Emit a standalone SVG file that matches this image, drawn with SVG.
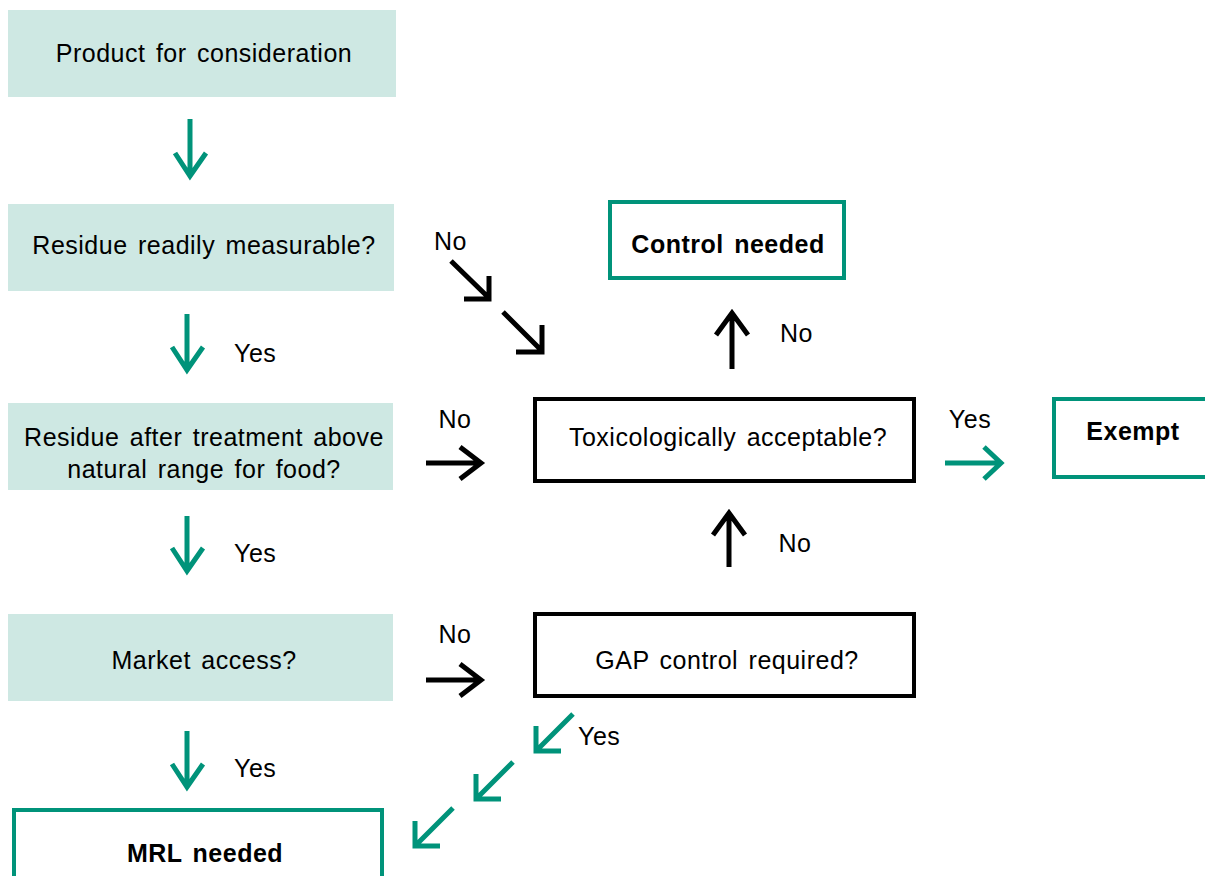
<svg xmlns="http://www.w3.org/2000/svg" width="1205" height="876" viewBox="0 0 1205 876">
<style>
text{font-family:"Liberation Sans",Arial,sans-serif;font-size:25px;fill:#000;letter-spacing:0.5px;word-spacing:3px}
.c{text-anchor:middle}
.b{font-weight:bold}
.fill{fill:#cee8e3;stroke:none}
.gbox{fill:#fff;stroke:#00937a;stroke-width:4}
.kbox{fill:#fff;stroke:#000;stroke-width:4}
.ga{fill:none;stroke:#00937a;stroke-width:5;stroke-linejoin:miter;stroke-linecap:butt}
.ka{fill:none;stroke:#000;stroke-width:5;stroke-linejoin:miter;stroke-linecap:butt}
</style>
<rect width="1205" height="876" fill="#fff"/>
<g id="n-product"><rect class="fill" x="8" y="10" width="388" height="87"/><text class="c" x="204" y="62">Product for consideration</text></g>
<g id="n-residue"><rect class="fill" x="8" y="204" width="386" height="87"/><text class="c" x="204" y="254">Residue readily measurable?</text></g>
<g id="n-above"><rect class="fill" x="8" y="403" width="385" height="87"/><text class="c" x="204" y="446">Residue after treatment above</text><text class="c" x="204" y="478">natural range for food?</text></g>
<g id="n-market"><rect class="fill" x="8" y="614" width="385" height="87"/><text class="c" x="204" y="669">Market access?</text></g>
<g id="n-mrl"><rect class="gbox" x="14" y="810" width="368" height="80"/><text class="c b" x="205" y="862">MRL needed</text></g>
<g id="n-control"><rect class="gbox" x="610" y="202" width="234" height="76"/><text class="c b" x="728" y="253">Control needed</text></g>
<g id="n-tox"><rect class="kbox" x="535" y="399" width="379" height="82"/><text class="c" x="728" y="446">Toxicologically acceptable?</text></g>
<g id="n-exempt"><rect class="gbox" x="1054" y="399" width="160" height="78"/><text class="c b" x="1133" y="440">Exempt</text></g>
<g id="n-gap"><rect class="kbox" x="535" y="614" width="379" height="82"/><text class="c" x="727" y="669">GAP control required?</text></g>
<g id="connectors">
<path class="ga" d="M190 119V176M175 153L190 176L206 153"/>
<path class="ga" d="M187 314V370M172 347L187 370L203 347"/>
<text x="234" y="362">Yes</text>
<path class="ga" d="M187 516V571M172 548L187 571L203 548"/>
<text x="234" y="562">Yes</text>
<path class="ga" d="M187 731V787M172 764L187 787L203 764"/>
<text x="234" y="777">Yes</text>
<text x="434" y="250">No</text>
<path class="ka" d="M451 261L489 298M489 276V299H464"/>
<path class="ka" d="M503 312L542 351M542 325V352H516"/>
<path class="ka" d="M732 369V314M716 335L732 313L748 335"/>
<text x="780" y="342">No</text>
<text class="c" x="455" y="428">No</text>
<path class="ka" d="M426 463H481M460 447L481 463L460 479"/>
<text class="c" x="970" y="428">Yes</text>
<path class="ga" d="M945 463H1001M984 447L1001 463L984 479"/>
<path class="ka" d="M729 567V513M713 535L729 513L745 535"/>
<text class="c" x="795" y="552">No</text>
<text class="c" x="455" y="643">No</text>
<path class="ka" d="M426 680H481M460 664L481 680L460 696"/>
<path class="ga" d="M573 714L537 750M536 726V751H561"/>
<text x="578" y="745">Yes</text>
<path class="ga" d="M513 762L477 798M476 774V799H501"/>
<path class="ga" d="M453 808L416 845M415 821V846H440"/>
</g>
</svg>
